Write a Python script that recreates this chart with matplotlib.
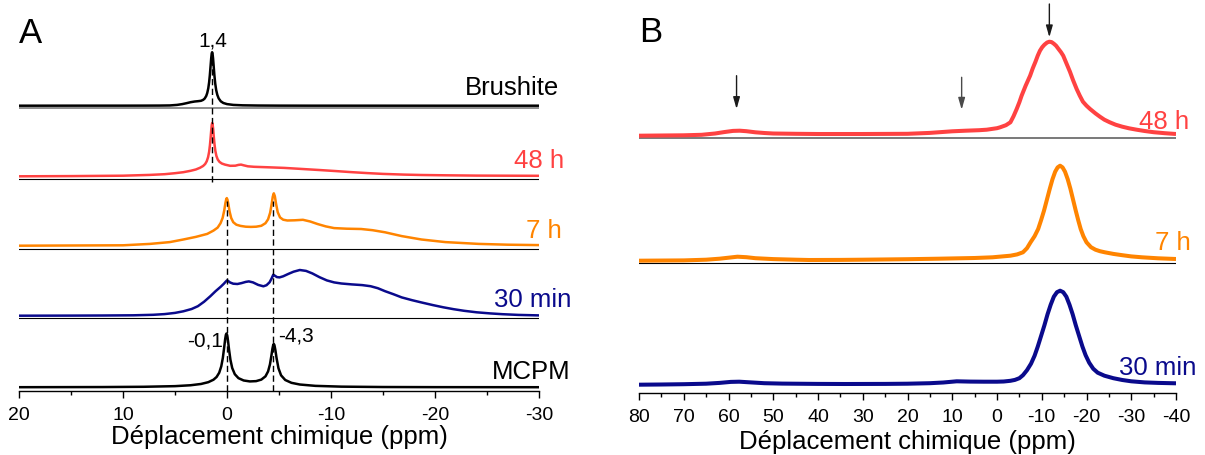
import numpy as np
import matplotlib
matplotlib.use("Agg")
import matplotlib.pyplot as plt
from matplotlib.ticker import MultipleLocator, FixedLocator, FixedFormatter

plt.rcParams['font.family'] = ['Liberation Sans', 'DejaVu Sans']

# ---------------- Panel A data (ppm, intensity a.u.) ----------------
ppm_brushite = [20, 14, 10, 8, 6.5, 5.5, 4.8, 4.3, 3.9, 3.5, 3.1, 2.8, 2.5, 2.3, 2.15, 2.0,
                1.9, 1.8, 1.72, 1.65, 1.58, 1.52, 1.47, 1.43, 1.39, 1.34, 1.28, 1.21, 1.13,
                1.04, 0.93, 0.8, 0.6, 0.35, 0.0, -0.6, -1.5, -3, -5, -8, -12, -20, -30]
int_brushite = [0, 0.05, 0.05, 0.08, 0.13, 0.26, 0.8, 1.6, 2.5, 3.5, 4.2, 4.5, 4.9, 5.8, 7.1, 9.7,
                12.7, 17.4, 23.3, 30.5, 39.5, 47.4, 52.2, 53.5, 52.1, 47.3, 39.3, 30.2, 22,
                15.6, 10.8, 7.3, 4.4, 2.7, 1.6, 0.8, 0.38, 0.17, 0.07, 0.03, 0.02, 0, 0]

ppm_48h_A = [20, 15, 10, 7.4, 6, 5, 4.2, 3.5, 3.0, 2.6, 2.3, 2.1, 1.95, 1.82, 1.72, 1.64,
             1.57, 1.51, 1.46, 1.42, 1.38, 1.33, 1.27, 1.2, 1.12, 1.02, 0.89, 0.72, 0.5,
             0.2, -0.3, -0.8, -1.1, -1.35, -1.6, -2.0, -2.6, -4, -5.5, -7.1, -9, -10.5,
             -11.9, -13.5, -15, -17, -18.7, -21, -24, -30]
int_48h_A = [0, 0.2, 0.6, 1.4, 2.1, 3.1, 4.1, 5.5, 6.8, 8.5, 10.3, 12.3, 15, 19.1, 24.4, 31.2,
             39.2, 46.9, 51.8, 53.3, 51.9, 47.2, 39.6, 31.9, 25.4, 20.4, 16.8, 14.4, 12.8,
             11.7, 10.5, 10.6, 11.4, 11.7, 11, 10, 9.5, 9.0, 8.4, 7.4, 6.2, 5.2,
             4.2, 3.2, 2.4, 1.7, 1.3, 1.0, 0.7, 0.5]

ppm_7h_A = [20, 10, 7.4, 5.5, 4.2, 3.0, 1.9, 1.3, 0.9, 0.62, 0.42, 0.27, 0.15, 0.07, 0.02,
            -0.05, -0.13, -0.25, -0.4, -0.6, -0.9, -1.3, -1.8, -2.3, -2.8, -3.3, -3.7, -3.95,
            -4.15, -4.3, -4.4, -4.5, -4.6, -4.72, -4.88, -5.1, -5.4, -5.8, -6.5, -7.3, -8.0,
            -8.7, -9.5, -10.3, -11.5, -12.9, -14, -15.2, -16.8, -18.7, -21, -24.2, -27, -30]
int_7h_A = [0, 0.4, 1.8, 3.6, 6.2, 8.8, 11.8, 15.1, 18.1, 22.5, 27.8, 35, 42.8, 46.7, 47.6,
            45.9, 41.5, 34.2, 27.8, 23.5, 21, 19.8, 19, 18.8, 19, 19.9, 22.5, 26.4,
            33, 42, 49, 52.4, 49.5, 41.7, 33.4, 28.3, 26, 25.2, 25.4, 25.9, 24.2,
            21.7, 19.3, 17.6, 17.0, 16.7, 15.5, 13.4, 9.6, 6.2, 3.6, 1.8, 1.0, 0.6]

ppm_30min_A = [20, 15, 12, 9, 7.1, 6, 5, 4.2, 3.4, 2.8, 2.2, 1.6, 1.1, 0.6, 0.3, 0.1, 0.0,
               -0.1, -0.3, -0.6, -1.0, -1.4, -1.8, -2.1, -2.5, -3.0, -3.5, -3.8, -4.1, -4.3,
               -4.45, -4.6, -4.8, -5.05, -5.4, -5.9, -6.4, -7.0, -7.6, -8.2, -8.9, -9.6,
               -10.3, -11, -12, -13, -13.8, -14.5, -15.2, -16, -16.8, -17.8, -18.8, -19.8,
               -20.8, -21.8, -22.8, -24, -25.3, -26.5, -28, -30]
int_30min_A = [0, 0.1, 0.2, 0.4, 0.9, 1.6, 2.8, 4.4, 6.7, 9.5, 14, 19.5, 24.5, 29, 32, 34.3, 35.3,
               34.8, 33.2, 32.0, 31.7, 32.6, 33.8, 34.3, 33.3, 30.8, 29.4, 30.5, 33.5, 37.5,
               41, 40, 38.6, 38.3, 39.4, 41.8, 44, 45.7, 44.8, 42.3, 38.5, 35.3,
               33.3, 32.2, 31.3, 30.6, 29.5, 27.5, 24.5, 21.5, 18.3, 15.5, 13, 10.6,
               8.4, 6.5, 4.9, 3.4, 2.3, 1.5, 0.8, 0.3]

ppm_mcpm = [20, 12, 8, 5, 3.5, 2.5, 1.8, 1.3, 1.0, 0.75, 0.55, 0.4, 0.28, 0.18, 0.11, 0.05,
            -0.02, -0.1, -0.2, -0.33, -0.5, -0.75, -1.1, -1.6, -2.2, -2.8, -3.3, -3.7, -3.95,
            -4.13, -4.27, -4.37, -4.45, -4.5, -4.56, -4.65, -4.77, -4.95, -5.2, -5.6, -6.2,
            -7.0, -8.5, -11, -15, -20, -30]
int_mcpm = [0.1, 0.25, 0.52, 1.15, 2.05, 3.33, 5.12, 7.58, 10.33, 14.56, 21, 29.4, 39.1, 47.9,
            52.4, 53.8, 52, 46.2, 37.4, 27.5, 19.3, 13.1, 9.17, 6.82, 5.88, 6.17, 7.69, 10.97,
            15.9, 22.9, 31.7, 38.7, 42.6, 43.35, 42.2, 37.3, 28.9, 19, 11.95, 7.3, 4.47,
            2.79, 1.44, 0.65, 0.28, 0.15, 0.08]

# ---------------- Panel B data ----------------
ppm_48h_B = [80, 75, 70, 66, 63, 61, 59, 57.5, 56, 54, 52, 50, 45, 40, 30, 25, 20, 15, 10, 7,
             4, 2.3, 0, -0.7, -2, -3, -3.7, -4.4, -5, -5.5, -6.4, -7.4, -8, -8.6, -9.1, -9.6,
             -10.1, -10.6, -11.2, -11.7, -12.2, -12.7, -13.2, -13.7, -14.3, -14.8, -15.5,
             -16.3, -17, -17.8, -18.5, -19.2, -20, -20.8, -22, -23, -24, -25.2, -26.5, -28,
             -29.5, -31.2, -33, -35, -37.5, -40]
int_48h_B = [0, 0.2, 0.4, 0.9, 2.2, 3.6, 4.8, 5, 4.5, 3.4, 2.7, 2.2, 1.9, 1.7, 1.7, 1.8, 1.9,
             2.8, 4.4, 5.0, 5.5, 6.0, 7.5, 8.4, 10.5, 13.4, 19.5, 26.7, 33.5, 40, 50, 60, 67.5,
             74, 80, 85, 88.5, 91, 93.2, 94, 93.6, 92, 90, 87, 83.5, 80, 72.5,
             64, 55.5, 46.7, 40, 34, 30, 26.7, 22.3, 19, 16, 13.4, 11, 9,
             7.4, 6, 4.7, 3.5, 2.5, 1.7]

ppm_7h_B = [80, 70, 65, 62, 60, 58, 56, 54, 50, 45, 42, 35, 30, 20, 13, 5, 1, -3, -4.5, -5.8,
            -6.7, -7.5, -8.4, -9.2, -9.85, -10.5, -11.15, -11.8, -12.4, -13, -13.55, -14.1,
            -14.65, -15.2, -15.8, -16.4, -17, -17.6, -18.15, -18.7, -19.3, -20, -21, -22,
            -23, -24.1, -26, -28, -30, -32.4, -36, -40]
int_7h_B = [0, 0.3, 1, 2, 3, 4, 3.5, 2.5, 1.6, 1, 0.7, 0.8, 1, 1.5, 2, 2.7, 3.4, 5, 6.3, 8.4,
            12.5, 18.4, 24.5, 31.7, 40.5, 50, 61, 72, 81.5, 89, 93.3, 95,
            93.3, 89, 81.5, 72, 61, 50, 40.5, 31.7, 24.5, 18.4, 13.5, 11,
            9.5, 8.4, 6.8, 5.5, 4.3, 3.4, 2.4, 1.7]

ppm_30min_B = [80, 75, 70, 65, 62, 59.5, 57.6, 55, 52, 48, 40, 34, 25, 20, 15, 12, 9, 6, 3, 0,
               -1.5, -3, -4, -5, -5.8, -6.7, -7.6, -8.4, -9.1, -9.8, -10.6, -11.3, -12, -12.7,
               -13.4, -14.1, -14.8, -15.5, -16.2, -16.9, -17.6, -18.4, -19.1, -19.8, -20.6,
               -21.5, -22.5, -24, -26, -28, -30, -33, -36, -40]
int_30min_B = [0, 0.2, 0.5, 1, 1.8, 2.8, 3, 2.3, 1.5, 1.1, 0.8, 0.7, 0.8, 1.0, 1.5, 2.2, 3.4,
               3.1, 3.0, 3.0, 3.2, 3.9, 4.8, 6.5, 9.5, 14.5, 21, 29, 38, 48, 59.5, 70.5, 80, 88,
               92.5, 94, 92.5, 88, 80, 70.5, 59.5, 48, 38, 29.5, 22,
               16, 12, 9, 6.5, 4.7, 3.4, 2.3, 1.8, 1.4]

# labels
labels_A = ["Brushite", "48 h", "7 h", "30 min", "MCPM"]
labels_B = ["48 h", "7 h", "30 min"]
peak_labels_A = ["1,4", "-0,1", "-4,3"]
dashed_A = [1.4, 0.0, -4.45]
arrows_B = [58.2, 7.9, -11.7]
ticks_A = [20, 10, 0, -10, -20, -30]
ticks_B = [80, 70, 60, 50, 40, 30, 20, 10, 0, -10, -20, -30, -40]

BLACK = "#000000"
RED = "#ff4242"
ORANGE = "#ff8400"
NAVY = "#0a0a8c"

W, H = 1205, 456
fig = plt.figure(figsize=(W / 100, H / 100), dpi=100)

axA = fig.add_axes([19 / W, (H - 392) / H, 520 / W, 392 / H])
axB = fig.add_axes([639 / W, (H - 394) / H, 537 / W, 394 / H])

for ax in (axA, axB):
    for s in ("top", "left", "right"):
        ax.spines[s].set_visible(False)
    ax.spines["bottom"].set_linewidth(1.0)
    ax.set_yticks([])
    ax.patch.set_alpha(0)
    ax.tick_params(axis="x", which="major", direction="out", length=5, width=1.0,
                   labelsize=14, pad=5.5)
    ax.tick_params(axis="x", which="minor", direction="out", length=3, width=1.0)

# ---------------- Panel A ----------------
axA.set_xlim(20, -30)
axA.set_ylim(0, 392)
axA.xaxis.set_major_locator(FixedLocator(ticks_A))
axA.xaxis.set_major_formatter(FixedFormatter([str(t) for t in ticks_A]))
axA.xaxis.set_minor_locator(MultipleLocator(5))

sepA = [283, 212, 142, 73]
baseA = [285.3, 214.7, 145.3, 75.3, 3.7]
seriesA = [(ppm_brushite, int_brushite, BLACK),
           (ppm_48h_A, int_48h_A, RED),
           (ppm_7h_A, int_7h_A, ORANGE),
           (ppm_30min_A, int_30min_A, NAVY),
           (ppm_mcpm, int_mcpm, BLACK)]
for i, y in enumerate(sepA):
    axA.axhline(y, color="#6e6e6e" if i == 0 else BLACK, lw=1.1 if i == 0 else 0.8, zorder=1)
for (x, yv, c), b in zip(seriesA, baseA):
    axA.plot(x, np.asarray(yv) + b, color=c, lw=1.8, zorder=3, solid_joinstyle="round")

# dashed guides
axA.plot([dashed_A[0]] * 2, [209, 332], color=BLACK, lw=1.0, dashes=(4.5, 2.5), zorder=4)
for xd in dashed_A[1:]:
    axA.plot([xd] * 2, [0, 190], color=BLACK, lw=1.0, dashes=(4.5, 2.5), zorder=4)

fsL = 18.5
label_pos_A = [(-31.9, 297), (-32.45, 223.7), (-32.2, 154.3), (-33.1, 85.3), (-33.0, 12.7)]
for (x, y), t, (_, _, c) in zip(label_pos_A, labels_A, seriesA):
    axA.text(x, y, t, color=c, fontsize=fsL, ha="right", va="baseline")

axA.text(1.32, 345.3, peak_labels_A[0], fontsize=15, ha="center", va="baseline")
axA.text(0.41, 45.3, peak_labels_A[1], fontsize=15, ha="right", va="baseline")
axA.text(-4.88, 50.3, peak_labels_A[2], fontsize=15, ha="left", va="baseline")
axA.text(20, 349.3, "A", fontsize=25, ha="left", va="baseline")

axA.set_xlabel("Déplacement chimique (ppm)", fontsize=fsL)
axA.xaxis.label.set_va("baseline")
axA.xaxis.set_label_coords(0.5, -(444 - 392) / 392)

# ---------------- Panel B ----------------
axB.set_xlim(80, -40)
axB.set_ylim(0, 394)
axB.xaxis.set_major_locator(FixedLocator(ticks_B))
axB.xaxis.set_major_formatter(FixedFormatter([str(t) for t in ticks_B]))
axB.xaxis.set_minor_locator(MultipleLocator(5))

sepB = [254.7, 130]
baseB = [257.3, 132.3, 8.3]
seriesB = [(ppm_48h_B, int_48h_B, RED),
           (ppm_7h_B, int_7h_B, ORANGE),
           (ppm_30min_B, int_30min_B, NAVY)]
axB.axhline(sepB[0], color="#6e6e6e", lw=1.3, zorder=1)
axB.axhline(sepB[1], color=BLACK, lw=0.8, zorder=1)
for (x, yv, c), b in zip(seriesB, baseB):
    axB.plot(x, np.asarray(yv) + b, color=c, lw=2.9, zorder=3, solid_joinstyle="round",
             solid_capstyle="butt")

label_pos_B = [(-42.9, 264.7), (-43.35, 144), (-44.6, 19)]
for (x, y), t, (_, _, c) in zip(label_pos_B, labels_B, seriesB):
    axB.text(x, y, t, color=c, fontsize=fsL, ha="right", va="baseline")
axB.text(80.07, 352.3, "B", fontsize=25, ha="left", va="baseline")

arrow_y = [(317.3, 284), (315.7, 283.3), (389, 355.7)]
arrow_c = ["#1a1a1a", "#4a4a4a", "#1a1a1a"]
for xa, (y0, y1), c in zip(arrows_B, arrow_y, arrow_c):
    axB.annotate("", xy=(xa, y1), xytext=(xa, y0),
                 arrowprops=dict(arrowstyle="-|>,head_length=0.7,head_width=0.2",
                                 color=c, lw=1.0, shrinkA=0, shrinkB=0,
                                 mutation_scale=10),
                 annotation_clip=False)

axB.set_xlabel("Déplacement chimique (ppm)", fontsize=fsL)
axB.xaxis.label.set_va("baseline")
axB.xaxis.set_label_coords(0.5, -(449 - 394) / 394)

fig.savefig("out.png", dpi=100)
